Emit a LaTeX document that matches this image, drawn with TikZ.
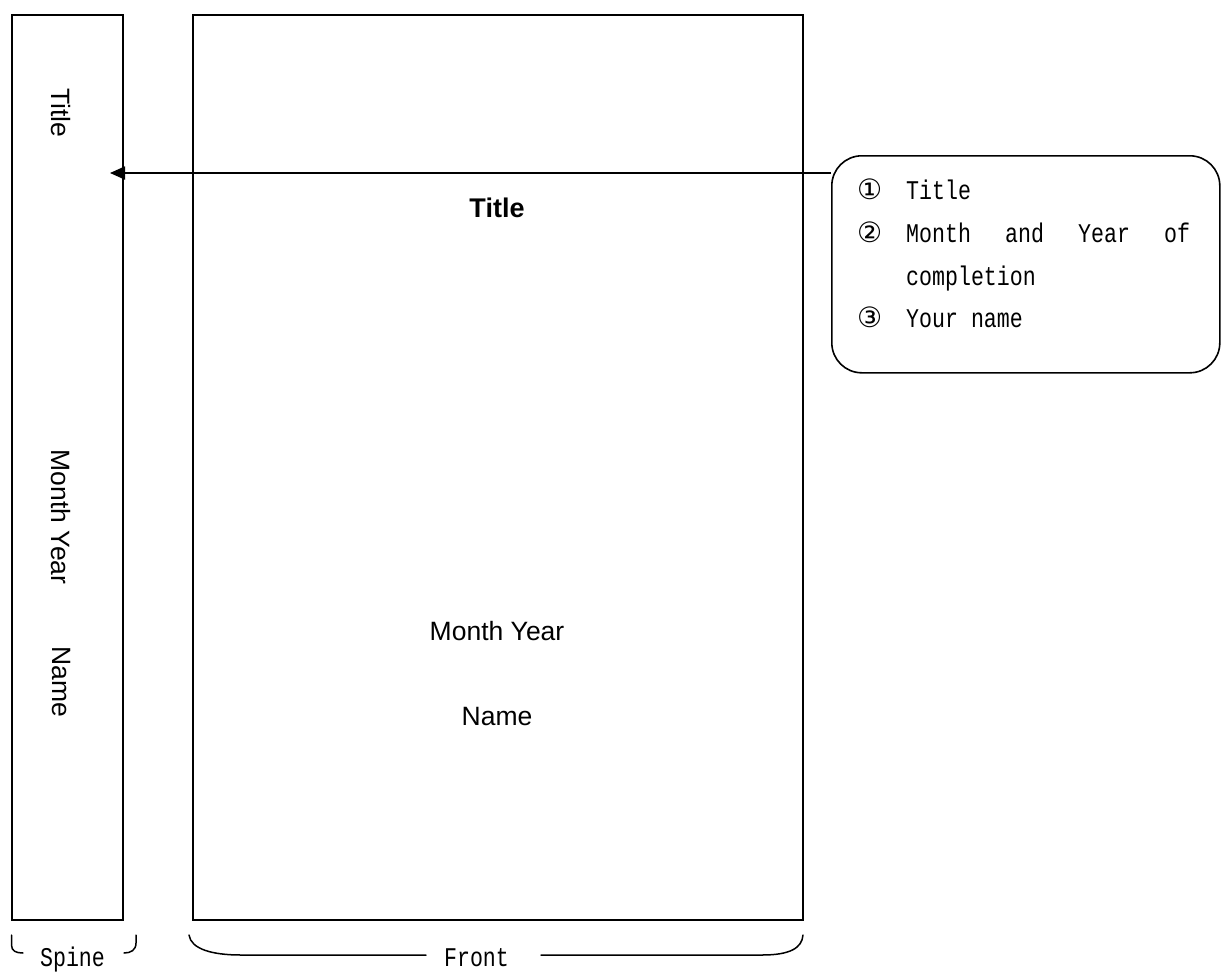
\documentclass[tikz,border=0pt]{standalone}
\usepackage{fontspec}
\setmainfont{Liberation Sans}
\newfontfamily\monofont[FakeStretch=0.8]{Liberation Mono}
\newfontfamily\symfont{DejaVu Sans}
\usetikzlibrary{arrows.meta}
\newcommand\cnum[1]{\makebox[49pt][l]{\symfont\fontsize{28}{32}\selectfont #1}}
\tikzset{
  boxline/.style={draw, line width=1.8pt, inner sep=0pt, anchor=north west},
  sanstxt/.style={font=\fontsize{26.5}{32}\selectfont, inner sep=0pt},
  monotxt/.style={font=\monofont\fontsize{27}{32}\selectfont, inner sep=0pt},
  bracestyle/.style={line width=1.5pt, line cap=round},
}
\begin{document}
\begin{tikzpicture}[x=1pt,y=-1pt]
\useasboundingbox (0,0) rectangle (1225,972);
% spine and front
\node[boxline, minimum width=111pt, minimum height=905pt] (spine) at (11,14) {};
\node[boxline, minimum width=610pt, minimum height=905pt] (front) at (192,14) {};
% callout box
\node[draw, line width=1.6pt, rounded corners=30pt, inner sep=0pt, anchor=north west,
      minimum width=388pt, minimum height=217pt] (callout) at (831,155) {};
% arrow
\coordinate (tip) at (110,173);
\draw[line width=1.8pt, -{Triangle[length=15pt,width=13pt]}] (callout.west |- tip) -- (tip);
% spine texts
\node[sanstxt, rotate=-90] (stitle) at (61,113) {Title};
\node[sanstxt, rotate=-90] (smonth) at (61,517) {Month Year};
\node[sanstxt, rotate=-90] (sname) at (61,682) {Name};
% front texts
\node[sanstxt, font=\fontsize{27}{32}\selectfont\bfseries, anchor=base] (ftitle) at (497,217) {Title};
\node[sanstxt, anchor=base] (fmonth) at (497,640) {Month Year};
\node[sanstxt, anchor=base] (fname) at (497,725) {Name};
% callout lines
\node[monotxt, anchor=base west] (l1) at (857,199) {\cnum{①}Title};
\node[monotxt, anchor=base west] (l2) at (857,242) {\cnum{②}\makebox[284pt][l]{Month\hfill and\hfill Year\hfill of}};
\node[monotxt, anchor=base west] (l3) at (857,285) {\hspace*{49pt}completion};
\node[monotxt, anchor=base west] (l4) at (857,327) {\cnum{③}Your name};
% bottom labels
\node[monotxt, anchor=base] (spinelbl) at (72.5,966) {Spine};
\node[monotxt, anchor=base] (frontlbl) at (476.5,966) {Front};
% braces
\draw[bracestyle] (11.5,935) -- (11.5,945) .. controls (11.5,951) and (16,953) .. (23,953);
\draw[bracestyle] (124,953) .. controls (131,953) and (136,950) .. (136,943) -- (136,935);
\draw[bracestyle] (189,935) .. controls (191,949) and (212,955) .. (241,955) -- (426,955);
\draw[bracestyle] (541,955) -- (762,955) .. controls (790,955) and (802,948) .. (803,935);
\end{tikzpicture}
\end{document}
